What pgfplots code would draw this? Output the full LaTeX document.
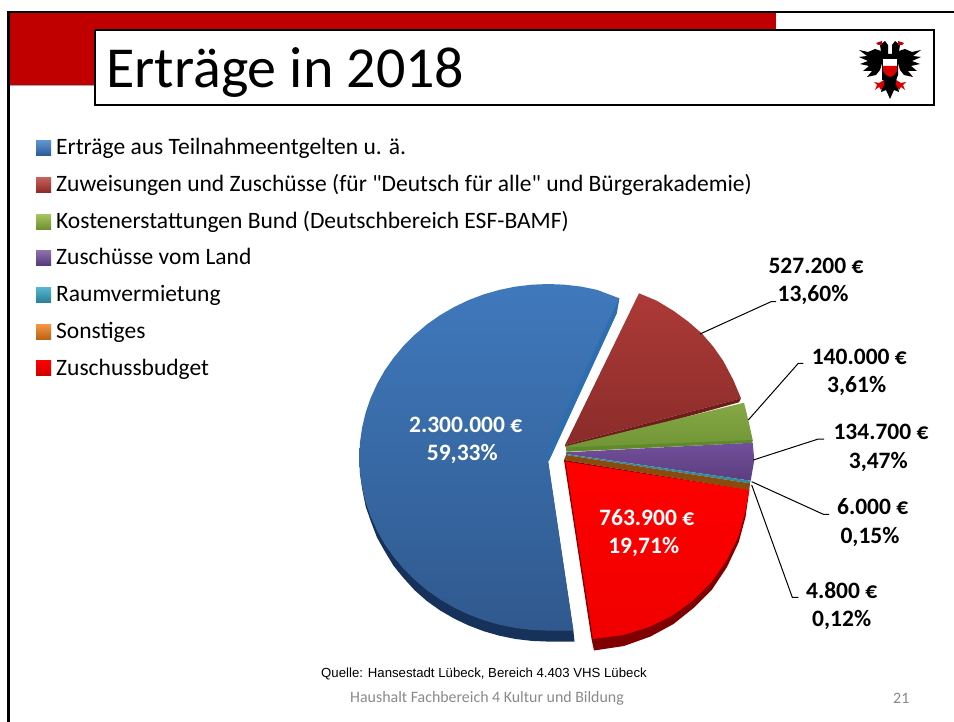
\documentclass[border=0pt]{standalone}
\usepackage{pgfplots}
\pgfplotsset{compat=1.18}
\usepackage{fontspec}
\setmainfont{Carlito}[Ligatures=TeXOff]
\newfontfamily\arialfont{Liberation Sans}
\definecolor{banner}{HTML}{C00000}
\definecolor{bluetop}{HTML}{3F79BC}
\definecolor{bluebot}{HTML}{30598E}
\definecolor{bluerim}{HTML}{17325A}
\definecolor{bluestrip}{HTML}{2E6DB0}
\definecolor{dredtop}{HTML}{AD3A37}
\definecolor{dredbot}{HTML}{8A2C2A}
\definecolor{dredstrip}{HTML}{6F1D1B}
\definecolor{greentop}{HTML}{86A845}
\definecolor{greenbot}{HTML}{6F9435}
\definecolor{greenstrip}{HTML}{5F8A2A}
\definecolor{purptop}{HTML}{734F9C}
\definecolor{purpbot}{HTML}{5A3E7E}
\definecolor{tealc}{HTML}{2D8C9E}
\definecolor{brownc}{HTML}{8A4B0E}
\definecolor{redrim}{HTML}{7F0000}
\definecolor{footgray}{HTML}{898989}
\definecolor{lbA}{HTML}{5E94D0}\definecolor{lbB}{HTML}{2A5A96}
\definecolor{lrA}{HTML}{C8605C}\definecolor{lrB}{HTML}{8C2A28}
\definecolor{lgA}{HTML}{A6C663}\definecolor{lgB}{HTML}{6F8F30}
\definecolor{lpA}{HTML}{8C70AE}\definecolor{lpB}{HTML}{53397A}
\definecolor{ltA}{HTML}{55B6D0}\definecolor{ltB}{HTML}{2A7F96}
\definecolor{loA}{HTML}{F79646}\definecolor{loB}{HTML}{B86410}
\newcommand\poly[2]{\addplot[fill=#1,draw=none] coordinates {#2};}
\newcommand\spoly[3]{\addplot[draw=none,top color=#1,bottom color=#2] coordinates {#3};}
\newcommand\leader[1]{\addplot[black,line width=1pt] coordinates {#1};}
\newcommand\lab[4]{\node[font=\fontsize{23.5}{25}\selectfont\bfseries,text=#1,anchor=center,inner sep=0pt] at (axis cs:#2,#3) {#4};}
\newcommand\legtext[2]{\node[font=\fontsize{23.5}{25}\selectfont,anchor=base west,inner sep=0pt] at (axis cs:56,#1) {#2};}
\begin{document}
\begin{tikzpicture}
\useasboundingbox (0,0) rectangle (954pt,722pt);
\begin{axis}[at={(0,0)},anchor=south west,scale only axis,width=954pt,height=722pt,
  xmin=0,xmax=954,ymin=0,ymax=722,y dir=reverse,hide axis,clip=false]
% slide frame
\poly{banner}{(8,12) (775.5,12) (775.5,85) (8,85)}
\poly{black!35}{(8,85) (94,85) (94,86.5) (8,86.5)}
\poly{black}{(7,11) (954,11) (954,13.5) (7,13.5)}
\poly{black}{(7,11) (9.5,11) (9.5,722) (7,722)}
\addplot[fill=white,draw=black,line width=2pt] coordinates {(94.5,30.5) (933.5,30.5) (933.5,105) (94.5,105) (94.5,30.5)};
\node[font=\fontsize{58}{60}\selectfont,anchor=base west,inner sep=0pt] at (axis cs:106,87.5) {Erträge in 2018};
% eagle
\poly{black}{(884,52) (875,49) (868,52) (859,50) (867,56) (859,57) (868,61) (860,64) (869,66) (863,71) (872,71) (867,77) (876,75) (880,70) (883,60)}
\poly{black}{(896,52) (905,49) (912,52) (921,50) (913,56) (921,57) (912,61) (920,64) (911,66) (917,71) (908,71) (913,77) (904,75) (900,70) (897,60)}
\poly{black}{(882,54) (898,54) (898,75) (896,80) (882,80) (882,75)}
\poly{black}{(884,78) (896,78) (899,92) (894,90) (890,99) (886,90) (881,92)}
\poly{black}{(880,45) (885,41) (888,45) (888,58) (882,58)}
\poly{black}{(900,45) (895,41) (892,45) (892,58) (898,58)}
\poly{banner}{(876,43) (882,41) (882,45) (878,45)}
\poly{banner}{(904,43) (898,41) (898,45) (902,45)}
\poly{white}{(883,59) (897,59) (897,66) (883,66)}
\poly{red!85!black}{(883,66) (897,66) (897,71) (894,75) (890,77) (886,75) (883,71)}
\poly{red!85!black}{(884,80) (879,83) (874,82) (877,85) (875,90) (879,87) (881,90) (884,85)}
\poly{red!85!black}{(896,80) (901,83) (906,82) (903,85) (905,90) (901,87) (899,90) (896,85)}
% legend
\spoly{lbA}{lbB}{(36,140.8) (51,140.8) (51,155.8) (36,155.8)}
\spoly{lrA}{lrB}{(36,177.5) (51,177.5) (51,192.5) (36,192.5)}
\spoly{lgA}{lgB}{(36,214.2) (51,214.2) (51,229.2) (36,229.2)}
\spoly{lpA}{lpB}{(36,250.8) (51,250.8) (51,265.8) (36,265.8)}
\spoly{ltA}{ltB}{(36,287.5) (51,287.5) (51,302.5) (36,302.5)}
\spoly{loA}{loB}{(36,324.2) (51,324.2) (51,339.2) (36,339.2)}
\spoly{red}{red!80!black}{(36,360.8) (51,360.8) (51,375.8) (36,375.8)}
\legtext{155}{Erträge aus Teilnahmeentgelten u. ä.}
\legtext{191.7}{Zuweisungen und Zuschüsse (für "Deutsch für alle" und Bürgerakademie)}
\legtext{228.4}{Kostenerstattungen Bund (Deutschbereich ESF-BAMF)}
\legtext{265}{Zuschüsse vom Land}
\legtext{301.7}{Raumvermietung}
\legtext{338.4}{Sonstiges}
\legtext{375}{Zuschussbudget}
% blue slice: Erträge aus Teilnahmeentgelten
\poly{bluerim}{(548,462) (359.3,457.3) (360,473.9) (362.2,489) (365.7,506.7) (370.7,521) (377,537.5) (384.6,551) (393.5,565.7) (403.5,578) (414.7,590.3) (426.8,601) (439.9,610.3) (453.8,618.4) (468.4,625.4) (483.7,631.2) (499.4,635.7) (515.5,639) (531.8,640.9) (548.3,641.6) (574.5,641.5) (573.3,630)}
\spoly{bluetop}{bluebot}{(548.3,461.7) (616.7,313.3) (619.3,298.3) (597.2,289.9) (581.1,286.6) (564.8,284.7) (548.3,284.0) (531.8,284.7) (515.5,286.6) (499.4,289.9) (483.7,294.4) (468.4,300.2) (453.8,307.2) (439.9,315.3) (426.8,324.5) (414.7,334.8) (403.5,345.9) (393.5,357.9) (384.6,370.6) (377,384.1) (370.7,398.0) (365.7,412.4) (362.2,427.2) (360,442.2) (359.3,457.3) (360,472.4) (362.2,487.4) (365.7,502.2) (370.7,516.6) (377,530.5) (384.6,544.0) (393.5,556.7) (403.5,568.7) (414.7,579.8) (426.8,590.1) (439.9,599.3) (453.8,607.4) (468.4,614.4) (483.7,620.2) (499.4,624.7) (515.5,628.0) (531.8,629.9) (548.3,630.6) (561.5,630.5) (573.3,630.5)}
\poly{bluestrip}{(619.3,298.3) (616.7,313.3) (549,460.7) (545,456)}
% dark red slice: Zuweisungen
\spoly{dredtop}{dredbot}{(565,445) (639,293.3) (656.7,300.7) (673.3,310.7) (688.3,321.7) (701.7,333.3) (713.3,346.7) (723.3,361) (733.3,380) (741,398.3)}
\poly{dredstrip}{(741,398.3) (739,402.3) (566.7,450) (565,445)}
% green slice: Kostenerstattungen
\spoly{greentop}{greenbot}{(566.7,446) (744,402.7) (748.3,420) (752.7,440) (752,442.7) (566.7,451.7)}
\poly{greenstrip}{(752.7,440) (752,442.7) (566.7,451.5) (566.7,447.5)}
% purple slice: Land
\spoly{purptop}{purpbot}{(566,452.3) (752.7,442.7) (754.3,460) (750.7,480.7) (566,454)}
% teal and brown slices
\poly{tealc}{(566,454) (750.7,480.7) (750,483.3) (566,455)}
\poly{brownc}{(566,455) (750,483.3) (749.3,490) (564,460)}
% red slice: Zuschussbudget
\poly{redrim}{(564,460) (749.3,490) (745.5,517) (738.8,542) (727,567) (712,589.5) (693.5,608) (673.5,624) (650.5,636.5) (624,646) (594,650.5) (591.7,640)}
\spoly{red}{red!94!black}{(565.5,461.5) (749.3,490) (745,513.3) (738.3,536.7) (726.7,560) (711.7,581.7) (693.3,600) (673.3,615) (650,626.7) (623.3,635) (593,639)}
% leaders
\leader{(700,334) (771,301.7) (776,301.7)}
\leader{(748.3,420) (798.3,363.3) (803.3,363.3)}
\leader{(753.3,460) (818.3,439) (824,439)}
\leader{(751.7,481.7) (823.3,514.3) (829,514.3)}
\leader{(751.7,485) (792.3,597.3) (798.3,597.3)}
% labels
\lab{black}{816}{265.7}{527.200 €}
\lab{black}{813}{295}{13,60\%}
\lab{black}{859.3}{356.7}{140.000 €}
\lab{black}{856.7}{386}{3,61\%}
\lab{black}{881}{431.7}{134.700 €}
\lab{black}{878.3}{461.7}{3,47\%}
\lab{black}{872.7}{506.7}{6.000 €}
\lab{black}{870}{536.7}{0,15\%}
\lab{black}{841.7}{590.3}{4.800 €}
\lab{black}{841.7}{620}{0,12\%}
\lab{white}{465.7}{425.3}{2.300.000 €}
\lab{white}{462.3}{454.3}{59,33\%}
\lab{white}{646.7}{517.7}{763.900 €}
\lab{white}{643.7}{546.7}{19,71\%}
% footer
\node[font=\arialfont\fontsize{13.2}{15}\selectfont,anchor=west,inner sep=0pt] at (axis cs:321,674) {Quelle: Hansestadt Lübeck, Bereich 4.403 VHS Lübeck};
\node[font=\fontsize{15.9}{17}\selectfont,text=footgray,anchor=west,inner sep=0pt] at (axis cs:350,698) {Haushalt Fachbereich 4 Kultur und Bildung};
\node[font=\fontsize{15.9}{17}\selectfont,text=footgray,anchor=west,inner sep=0pt] at (axis cs:893,698) {21};
\end{axis}
\end{tikzpicture}
\end{document}
